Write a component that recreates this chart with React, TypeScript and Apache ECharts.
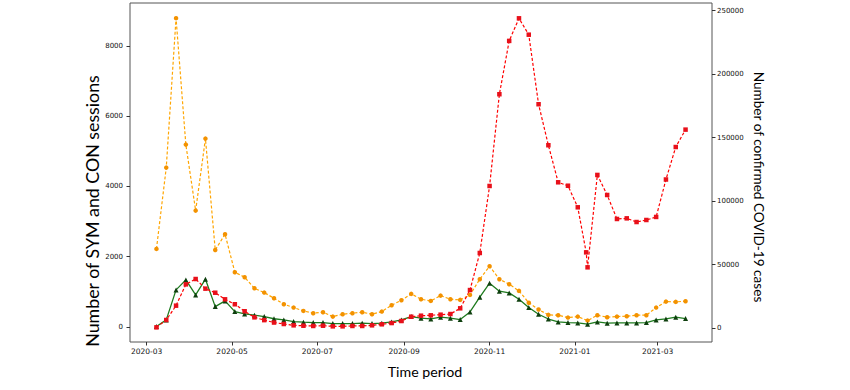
import React, { useEffect, useRef } from "react";
import * as echarts from "echarts";

const weeks = [
  "2020-03-08", "2020-03-15", "2020-03-22", "2020-03-29", "2020-04-05", "2020-04-12", "2020-04-19", "2020-04-26",
  "2020-05-03", "2020-05-10", "2020-05-17", "2020-05-24", "2020-05-31", "2020-06-07", "2020-06-14", "2020-06-21",
  "2020-06-28", "2020-07-05", "2020-07-12", "2020-07-19", "2020-07-26", "2020-08-02", "2020-08-09", "2020-08-16",
  "2020-08-23", "2020-08-30", "2020-09-06", "2020-09-13", "2020-09-20", "2020-09-27", "2020-10-04", "2020-10-11",
  "2020-10-18", "2020-10-25", "2020-11-01", "2020-11-08", "2020-11-15", "2020-11-22", "2020-11-29", "2020-12-06",
  "2020-12-13", "2020-12-20", "2020-12-27", "2021-01-03", "2021-01-10", "2021-01-17", "2021-01-24", "2021-01-31",
  "2021-02-07", "2021-02-14", "2021-02-21", "2021-02-28", "2021-03-07", "2021-03-14", "2021-03-21",
];

const symSessions = [
  2220, 4535, 8790, 5190, 3311, 5361, 2190, 2639, 1557, 1414, 1100, 977, 816, 646, 550, 455,
  390, 418, 293, 361, 390, 418, 361, 436, 618, 760, 940, 788, 740, 891, 788, 769,
  911, 1358, 1728, 1358, 1216, 1025, 688, 494, 342, 333, 265, 293, 179, 333, 276, 293,
  305, 333, 333, 550, 720, 712, 732,
];

const conSessions = [
  10, 199, 1053, 1338, 911, 1358, 578, 740, 436, 370, 333, 293, 232, 199, 151, 134,
  122, 122, 94, 94, 94, 105, 94, 105, 142, 199, 293, 248, 228, 276, 248, 208,
  427, 845, 1244, 1016, 968, 788, 550, 361, 224, 142, 122, 114, 77, 142, 105, 114,
  114, 114, 122, 199, 228, 276, 236,
];

const covidCases = [
  500, 6300, 17600, 34400, 38600, 31000, 27800, 22600, 18700, 13200, 8400, 6200, 4300, 3150, 2100, 1800,
  1600, 1800, 1300, 1300, 1600, 1600, 2100, 2900, 3900, 5500, 8900, 9700, 10000, 10500, 11000, 15500,
  29900, 59100, 111900, 184200, 226200, 244000, 231100, 176300, 144000, 114800, 112100, 95100, 47800, 120600, 104800, 85900,
  86400, 83500, 85100, 87500, 117000, 142600, 156300,
];

// an additional reported point just before 2021-01-10
const extraCaseDate = "2021-01-09";
const extraCaseValue = 59600;

const xTickDates = ["2020-03-01", "2020-05-01", "2020-07-01", "2020-09-01", "2020-11-01", "2021-01-01", "2021-03-01"];
const leftTicks = [0, 2000, 4000, 6000, 8000];
const rightTicks = [0, 50000, 100000, 150000, 200000, 250000];

const toTs = (s: string) => {
  const [y, m, d] = s.split("-").map(Number);
  return Date.UTC(y, m - 1, d);
};
const DAY = 86400000;
const pad = (n: number) => (n < 10 ? "0" + n : "" + n);

export default function App() {
  const ref = useRef<HTMLDivElement>(null);
  useEffect(() => {
    if (!ref.current) return;
    const chart = echarts.init(ref.current, null, { renderer: "svg" });
    const symData = weeks.map((w, i) => [toTs(w), symSessions[i]]);
    const conData = weeks.map((w, i) => [toTs(w), conSessions[i]]);
    const caseData: number[][] = weeks.map((w, i) => [toTs(w), covidCases[i]]);
    caseData.push([toTs(extraCaseDate), extraCaseValue]);
    caseData.sort((a, b) => a[0] - b[0]);
    const t0 = toTs("2020-03-01");
    const tickFont = "DejaVu Sans";
    const plain = (v: number) => String(Math.round(v));
    chart.setOption({
      animation: false,
      backgroundColor: "#ffffff",
      grid: {
        left: 130,
        top: 3,
        right: 138,
        bottom: 48,
        show: true,
        borderColor: "#555",
        borderWidth: 1,
        backgroundColor: "transparent",
      },
      xAxis: {
        type: "value",
        min: t0 - 11.9 * DAY,
        max: t0 + 403.9 * DAY,
        splitLine: { show: false },
        axisLine: { show: false, onZero: false },
        axisTick: {
          show: true,
          length: 3.5,
          lineStyle: { color: "#333" },
          customValues: xTickDates.map(toTs),
        },
        axisLabel: {
          customValues: xTickDates.map(toTs),
          fontFamily: tickFont,
          fontSize: 7.5,
          color: "#111",
          margin: 5,
          formatter: (v: number) => {
            const d = new Date(v);
            return d.getUTCFullYear() + "-" + pad(d.getUTCMonth() + 1);
          },
        },
      },
      yAxis: [
        {
          type: "value",
          position: "left",
          min: -430,
          max: 9222,
          splitLine: { show: false },
          axisLine: { show: false, onZero: false },
          axisTick: { show: true, length: 3.5, lineStyle: { color: "#333" }, customValues: leftTicks },
          axisLabel: { customValues: leftTicks, fontFamily: tickFont, fontSize: 7, color: "#111", margin: 7, formatter: plain },
        },
        {
          type: "value",
          position: "right",
          min: -11030,
          max: 256070,
          splitLine: { show: false },
          axisLine: { show: false, onZero: false },
          axisTick: { show: true, length: 3.5, lineStyle: { color: "#333" }, customValues: rightTicks },
          axisLabel: { customValues: rightTicks, fontFamily: tickFont, fontSize: 7, color: "#111", margin: 5, formatter: plain },
        },
      ],
      graphic: [
        {
          type: "text",
          x: 92,
          y: 211,
          rotation: Math.PI / 2,
          style: {
            text: "Number of SYM and CON sessions",
            fontFamily: "Lato",
            fontSize: 17.8,
            fill: "#000",
            align: "center",
            verticalAlign: "middle",
          },
        },
        {
          type: "text",
          x: 759,
          y: 187,
          rotation: -Math.PI / 2,
          style: {
            text: "Number of confirmed COVID-19 cases",
            fontFamily: "Lato",
            fontSize: 13.6,
            fill: "#000",
            align: "center",
            verticalAlign: "middle",
          },
        },
        {
          type: "text",
          x: 425,
          y: 371,
          style: {
            text: "Time period",
            fontFamily: "Lato",
            fontSize: 14.2,
            fill: "#000",
            align: "center",
            verticalAlign: "middle",
          },
        },
      ],
      series: [
        {
          name: "SYM sessions",
          type: "line",
          yAxisIndex: 0,
          data: symData,
          symbol: "circle",
          symbolSize: 4.5,
          lineStyle: { color: "#FFA500", width: 1.2, type: [3, 2] },
          itemStyle: { color: "#F39200" },
        },
        {
          name: "CON sessions",
          type: "line",
          yAxisIndex: 0,
          data: conData,
          symbol: "triangle",
          symbolSize: 5,
          lineStyle: { color: "#1E7B1E", width: 1.3 },
          itemStyle: { color: "#0E3F0E" },
        },
        {
          name: "Confirmed COVID-19 cases",
          type: "line",
          yAxisIndex: 1,
          data: caseData,
          symbol: "rect",
          symbolSize: 4.5,
          lineStyle: { color: "#FF0000", width: 1.2, type: [3, 2] },
          itemStyle: { color: "#E8101A" },
        },
      ],
    });
    return () => chart.dispose();
  }, []);
  return <div ref={ref} style={{ position: "absolute", left: 0, top: 0, width: 850, height: 390 }} />;
}
